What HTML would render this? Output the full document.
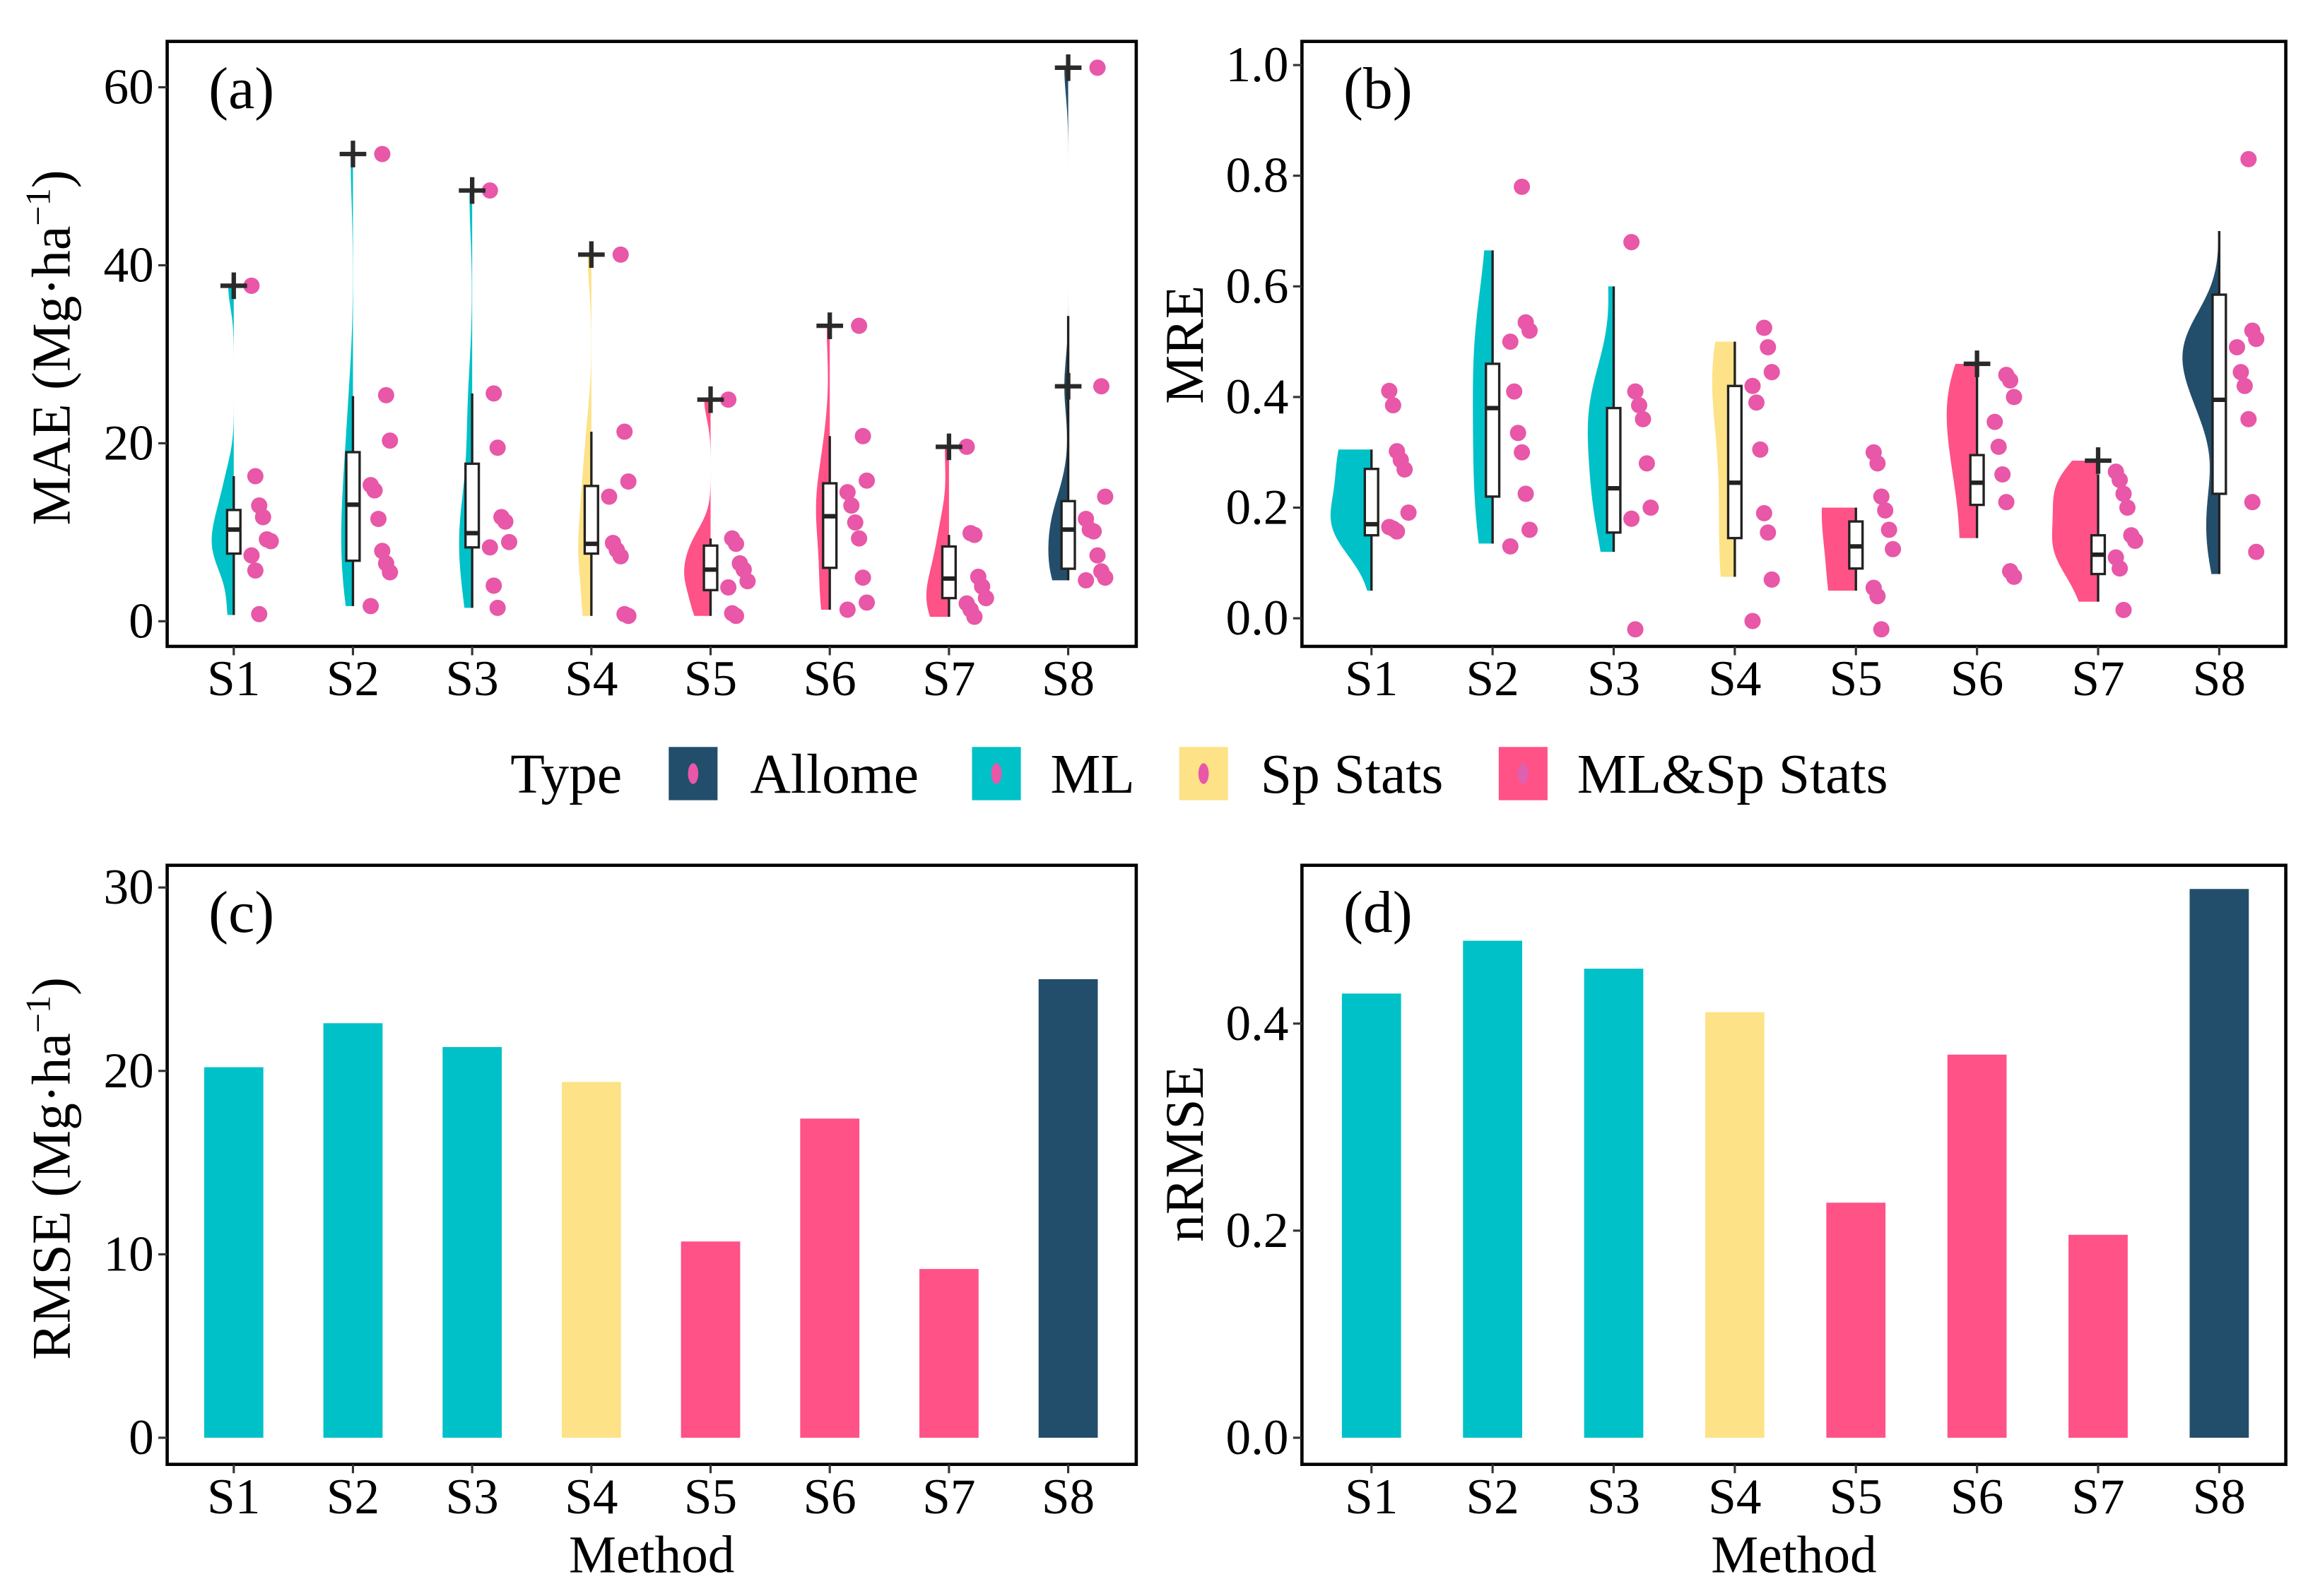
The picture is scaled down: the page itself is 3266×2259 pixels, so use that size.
<!DOCTYPE html>
<html><head><meta charset="utf-8">
<style>
html,body{margin:0;padding:0;background:#fff;}
svg{display:block;font-family:"Liberation Serif","DejaVu Serif",serif;}
</style></head>
<body>
<svg id="fig" width="3266" height="2259" viewBox="0 0 1560 1079" preserveAspectRatio="none" xmlns="http://www.w3.org/2000/svg">
<rect x="0" y="0" width="1560" height="1079" fill="#fff"/>
<g id="legend">
  <text x="345" y="536" font-size="38">Type</text>
  <rect x="452" y="505" width="33" height="36" fill="#234E6B"/>
  <ellipse cx="468.5" cy="523" rx="3.5" ry="7" fill="#E857A8"/>
  <text x="507" y="536" font-size="38">Allome</text>
  <rect x="657" y="505" width="33" height="36" fill="#00C1C8"/>
  <ellipse cx="673.5" cy="523" rx="3.5" ry="7" fill="#E857A8"/>
  <text x="710" y="536" font-size="38">ML</text>
  <rect x="797" y="505" width="33" height="36" fill="#FDE287"/>
  <ellipse cx="813.5" cy="523" rx="3.5" ry="7" fill="#E857A8"/>
  <text x="852" y="536" font-size="38">Sp Stats</text>
  <rect x="1013" y="505" width="33" height="36" fill="#FF5287"/>
  <ellipse cx="1029.5" cy="523" rx="3.5" ry="7" fill="#E060B0"/>
  <text x="1066" y="536" font-size="38">ML&amp;Sp Stats</text>
</g>
</svg>
<script>
const categories = ['S1','S2','S3','S4','S5','S6','S7','S8'];
const methodTypes = ['ML','ML','ML','Sp','MLSp','MLSp','MLSp','Allome'];
const typeColors = {ML:'#00C1C8', Sp:'#FDE287', MLSp:'#FF5287', Allome:'#234E6B'};

// Panel (a) MAE
const maePoints = [
 [37.7,16.3,13.0,11.7,9.2,9.0,7.4,5.7,0.8],
 [52.5,25.4,20.3,15.3,14.7,11.5,7.9,6.5,5.5,1.7],
 [48.4,25.6,19.5,11.7,11.2,8.9,8.3,4.0,1.5],
 [41.2,21.3,15.7,14.0,8.8,8.0,7.3,0.8,0.6],
 [24.9,9.3,8.7,6.5,5.8,4.5,3.8,0.9,0.6],
 [33.2,20.8,15.8,14.5,13.0,11.1,9.3,4.9,2.1,1.3],
 [19.6,9.9,9.7,5.0,3.9,2.6,2.0,1.3,0.5],
 [62.2,26.4,14.0,11.5,10.3,10.1,7.4,5.6,4.9,4.6]];
const maeViolinMin = [0.7,1.7,1.5,0.6,0.6,1.3,0.5,4.6];
const maeViolinMax = [37.7,52.5,48.4,41.2,24.9,33.2,19.6,62.2];
const maeQ1 = [7.6,6.8,8.3,7.6,3.5,6.0,2.6,5.9];
const maeMedian = [10.3,13.1,9.9,8.7,5.8,11.8,4.8,10.3];
const maeQ3 = [12.5,19.0,17.7,15.2,8.5,15.5,8.4,13.5];
const maeWhiskerLo = [0.7,1.7,1.5,0.6,0.6,1.3,0.5,4.6];
const maeWhiskerHi = [16.3,25.3,25.6,21.3,9.3,20.8,9.7,34.3];
const maeOutliers = [[37.7],[52.5],[48.4],[41.2],[24.9],[33.2],[19.6],[62.2,26.4]];
const maeTicks = [0,20,40,60];

// Panel (b) MRE
const mrePoints = [
 [0.411,0.385,0.302,0.286,0.269,0.191,0.165,0.162,0.157],
 [0.78,0.535,0.52,0.50,0.41,0.335,0.30,0.225,0.16,0.13],
 [0.68,0.41,0.385,0.36,0.28,0.20,0.18,-0.02],
 [0.525,0.49,0.445,0.42,0.39,0.305,0.19,0.155,0.07,-0.005],
 [0.30,0.28,0.22,0.195,0.16,0.125,0.055,0.04,-0.02],
 [0.44,0.43,0.40,0.355,0.31,0.26,0.21,0.085,0.075],
 [0.265,0.25,0.225,0.20,0.15,0.14,0.11,0.09,0.015],
 [0.83,0.52,0.505,0.49,0.445,0.42,0.36,0.21,0.12]];
const mreViolinMin = [0.05,0.135,0.12,0.075,0.05,0.145,0.03,0.08];
const mreViolinMax = [0.305,0.665,0.60,0.50,0.20,0.46,0.285,0.70];
const mreQ1 = [0.15,0.22,0.155,0.145,0.09,0.205,0.08,0.225];
const mreMedian = [0.17,0.38,0.235,0.245,0.13,0.245,0.115,0.395];
const mreQ3 = [0.27,0.46,0.38,0.42,0.175,0.295,0.15,0.585];
const mreWhiskerLo = [0.05,0.135,0.12,0.075,0.05,0.145,0.03,0.08];
const mreWhiskerHi = [0.305,0.665,0.60,0.50,0.20,0.46,0.26,0.70];
const mreOutliers = [[],[],[],[],[],[0.46],[0.285],[]];
const mreTicks = [0.0,0.2,0.4,0.6,0.8,1.0];
const mreTickLabels = ['0.0','0.2','0.4','0.6','0.8','1.0'];

// Panel (c) RMSE, (d) nRMSE
const rmseValues = [20.2,22.6,21.3,19.4,10.7,17.4,9.2,25.0];
const rmseTicks = [0,10,20,30];
const nrmseValues = [0.429,0.48,0.453,0.411,0.227,0.37,0.196,0.53];
const nrmseTicks = [0.0,0.2,0.4];
const nrmseTickLabels = ['0.0','0.2','0.4'];

const NS = 'http://www.w3.org/2000/svg';
const svg = document.getElementById('fig');
function mk(tag, attrs, parent){
  const e = document.createElementNS(NS, tag);
  for (const k in attrs) e.setAttribute(k, attrs[k]);
  (parent||svg).appendChild(e);
  return e;
}
function scaleLinear(d0,d1,r0,r1){ return v => r0 + (v-d0)/(d1-d0)*(r1-r0); }

function axes(g, box, yScale, ticks, labels, xScale, title, tag, name){
  const fr = mk('rect',{x:box.x0,y:box.y0,width:box.x1-box.x0,height:box.y1-box.y0,fill:'none',stroke:'#000','stroke-width':2.2},g);
  
  
  ticks.forEach((t,i)=>{
    const y = yScale(t);
    const tk = mk('line',{x1:box.x0-6,x2:box.x0,y1:y,y2:y,stroke:'#333','stroke-width':1.5},g);
    
    
    const tl = mk('text',{x:box.x0-9,y:y+11,'font-size':34,'text-anchor':'end'},g);
    tl.textContent = labels ? labels[i] : String(t);
    
    
  });
  categories.forEach((c,i)=>{
    const x = xScale(i);
    const tk = mk('line',{x1:x,x2:x,y1:box.y1,y2:box.y1+6,stroke:'#333','stroke-width':1.5},g);
    
    
    const tl = mk('text',{x:x,y:box.y1+33,'font-size':34,'text-anchor':'middle'},g);
    tl.textContent = c;
    
    
  });
  const tg = mk('text',{x:box.x0+28,y:box.y0+45,'font-size':40},g);
  tg.textContent = tag;
  
  
  const ty = mk('text',{x:0,y:0,'font-size':37,'text-anchor':'middle',transform:'translate('+title.x+','+title.y+') rotate(-90)'},g);
  ty.innerHTML = title.html;
  
  
}

function kde(vals, v){
  const n = vals.length;
  const mean = vals.reduce((a,b)=>a+b,0)/n;
  const sd = Math.sqrt(vals.reduce((a,b)=>a+(b-mean)*(b-mean),0)/(n-1));
  const s = vals.slice().sort((a,b)=>a-b);
  const q = p => { const h=(n-1)*p, l=Math.floor(h); return s[l]+(h-l)*((s[Math.min(l+1,n-1)])-s[l]); };
  const iqr = q(0.75)-q(0.25);
  const bw = 0.9*Math.min(sd, iqr/1.34 || sd)*Math.pow(n,-0.2);
  let d=0; vals.forEach(x=>{ const z=(v-x)/bw; d+=Math.exp(-0.5*z*z); });
  return d/(n*bw*Math.sqrt(2*Math.PI));
}

function violinPanel(cfg){
  const g = mk('g',{});
  
  
  axes(g, cfg.box, cfg.y, cfg.ticks, cfg.tickLabels, cfg.x, cfg.title, cfg.tag, cfg.name);
  categories.forEach((c,i)=>{
    const cx = cfg.x(i);
    const pts = cfg.points[i];
    const lo = cfg.vmin[i], hi = cfg.vmax[i];
    let d = 'M'+cx+','+cfg.y(lo);
    const N=80;
    for(let k=0;k<=N;k++){
      const v = lo + (hi-lo)*k/N;
      const w = kde(pts, v)*cfg.range*cfg.wscale;
      d += ' L'+(cx-w).toFixed(2)+','+cfg.y(v).toFixed(2);
    }
    d += ' L'+cx+','+cfg.y(hi)+' Z';
    const vp = mk('path',{d:d,fill:typeColors[methodTypes[i]],stroke:'none'},g);
    
    
    const wl = mk('line',{x1:cx,x2:cx,y1:cfg.y(cfg.wlo[i]),y2:cfg.y(cfg.whi[i]),stroke:'#222','stroke-width':1.6},g);
    
    
    const bx = mk('rect',{x:cx-4.5,y:cfg.y(cfg.q3[i]),width:9,height:cfg.y(cfg.q1[i])-cfg.y(cfg.q3[i]),fill:'#fff',stroke:'#222','stroke-width':1.6},g);
    
    
    const md = mk('line',{x1:cx-4.5,x2:cx+4.5,y1:cfg.y(cfg.med[i]),y2:cfg.y(cfg.med[i]),stroke:'#222','stroke-width':3},g);
    
    
    pts.forEach((v,j)=>{
      const off = 12 + ((j*7+i*3)%6)*2.6;
      const p = mk('circle',{cx:cx+off,cy:cfg.y(v),r:5.5,fill:'#E857A8'},g);
      
      
    });
    cfg.outliers[i].forEach(v=>{
      const y = cfg.y(v);
      const pl = mk('path',{d:'M'+(cx-9)+','+y+' H'+(cx+9)+' M'+cx+','+(y-9)+' V'+(y+9),stroke:'#2a2a2a','stroke-width':3,fill:'none'},g);
      
      
    });
  });
}

function barPanel(cfg){
  const g = mk('g',{});
  
  
  categories.forEach((c,i)=>{
    const cx = cfg.x(i);
    const y0 = cfg.y(0), y1 = cfg.y(cfg.values[i]);
    const b = mk('rect',{x:cx-20,y:y1,width:40,height:y0-y1,fill:typeColors[methodTypes[i]]},g);
    
    
  });
  axes(g, cfg.box, cfg.y, cfg.ticks, cfg.tickLabels, cfg.x, cfg.title, cfg.tag, cfg.name);
  const xt = mk('text',{x:(cfg.box.x0+cfg.box.x1)/2,y:1063,'font-size':36,'text-anchor':'middle'},g);
  xt.textContent = 'Method';
  
  
}

const unitHtml = ' (Mg·ha<tspan baseline-shift="super" font-size="24">−1</tspan>)';
const xA = i => 158 + i*(722-158)/7;
const xB = i => 927 + i*(1500-927)/7;

violinPanel({name:'panel-a-mae', tag:'(a)', box:{x0:113,x1:768,y0:28,y1:437},
  y:scaleLinear(0,60,420,59), range:60, wscale:3.4, x:xA, ticks:maeTicks, tickLabels:null,
  title:{x:47,y:235,html:'MAE'+unitHtml},
  points:maePoints, vmin:maeViolinMin, vmax:maeViolinMax, q1:maeQ1, med:maeMedian, q3:maeQ3,
  wlo:maeWhiskerLo, whi:maeWhiskerHi, outliers:maeOutliers});
violinPanel({name:'panel-b-mre', tag:'(b)', box:{x0:880,x1:1545,y0:28,y1:437},
  y:scaleLinear(0,1,418,44), range:1, wscale:8, x:xB, ticks:mreTicks, tickLabels:mreTickLabels,
  title:{x:813,y:233,html:'MRE'},
  points:mrePoints, vmin:mreViolinMin, vmax:mreViolinMax, q1:mreQ1, med:mreMedian, q3:mreQ3,
  wlo:mreWhiskerLo, whi:mreWhiskerHi, outliers:mreOutliers});
barPanel({name:'panel-c-rmse', tag:'(c)', box:{x0:113,x1:768,y0:585,y1:990},
  y:scaleLinear(0,30,972,600), x:xA, ticks:rmseTicks, tickLabels:null, values:rmseValues,
  title:{x:47,y:790,html:'RMSE'+unitHtml}});
barPanel({name:'panel-d-nrmse', tag:'(d)', box:{x0:880,x1:1545,y0:585,y1:990},
  y:scaleLinear(0,0.4,972,692), x:xB, ticks:nrmseTicks, tickLabels:nrmseTickLabels, values:nrmseValues,
  title:{x:813,y:780,html:'nRMSE'}});
</script>
</body></html>
